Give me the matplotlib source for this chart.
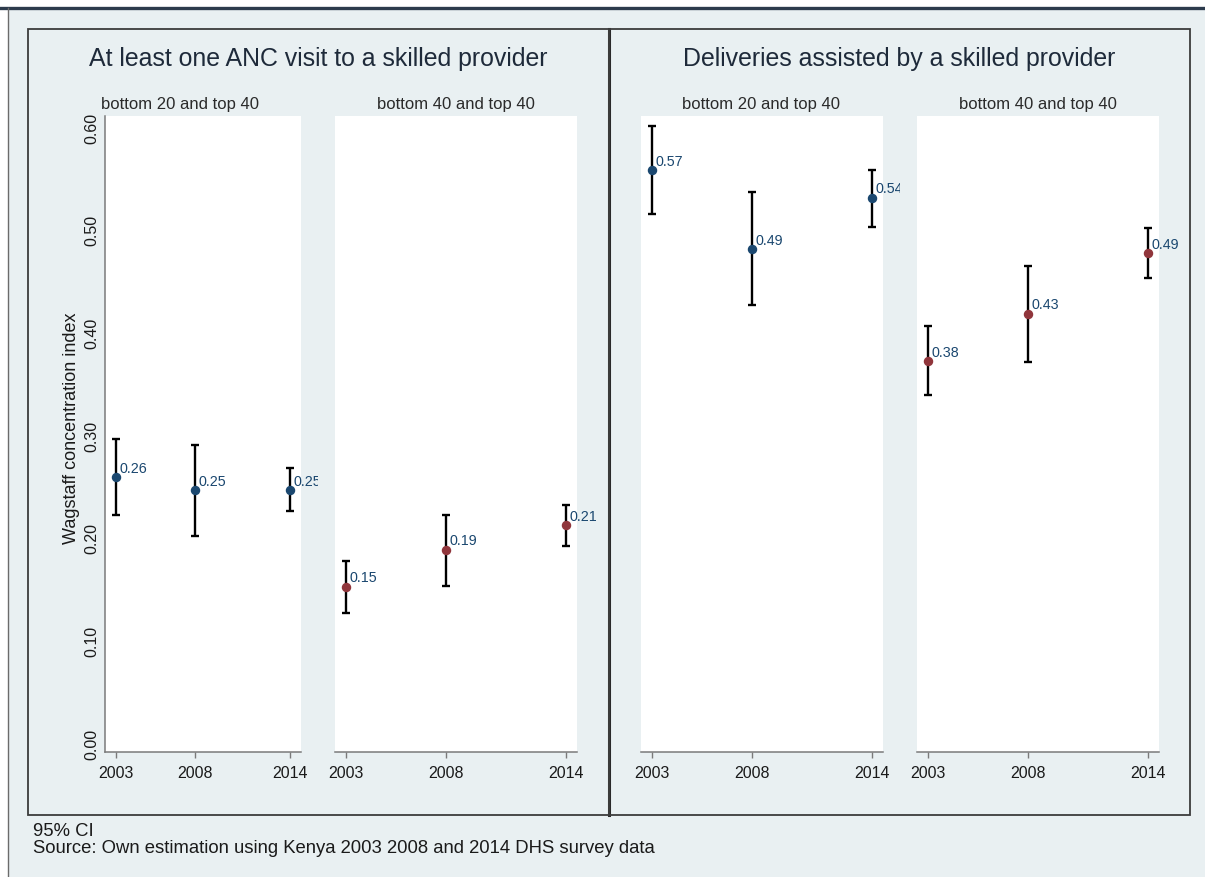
import matplotlib
matplotlib.use("Agg")
import matplotlib.pyplot as plt
from matplotlib.patches import Rectangle
from matplotlib.lines import Line2D
from matplotlib.transforms import Bbox, TransformedBbox

# ---------------- data ----------------
years = [2003, 2008, 2014]
year_labels = ["2003", "2008", "2014"]

anc_b20_est = [0.259, 0.246, 0.246]
anc_b20_lo = [0.222, 0.202, 0.226]
anc_b20_hi = [0.296, 0.290, 0.268]
anc_b20_lab = ["0.26", "0.25", "0.25"]

anc_b40_est = [0.152, 0.188, 0.212]
anc_b40_lo = [0.127, 0.153, 0.192]
anc_b40_hi = [0.177, 0.222, 0.232]
anc_b40_lab = ["0.15", "0.19", "0.21"]

del_b20_est = [0.558, 0.481, 0.531]
del_b20_lo = [0.515, 0.427, 0.503]
del_b20_hi = [0.601, 0.537, 0.558]
del_b20_lab = ["0.57", "0.49", "0.54"]

del_b40_est = [0.372, 0.418, 0.477]
del_b40_lo = [0.339, 0.371, 0.453]
del_b40_hi = [0.406, 0.465, 0.502]
del_b40_lab = ["0.38", "0.43", "0.49"]

yticks = [0.0, 0.1, 0.2, 0.3, 0.4, 0.5, 0.6]
ytick_labels = ["0.00", "0.10", "0.20", "0.30", "0.40", "0.50", "0.60"]

titles = ["At least one ANC visit to a skilled provider",
          "Deliveries assisted by a skilled provider"]
subtitles = ["bottom 20 and top 40", "bottom 40 and top 40"]
ylabel = "Wagstaff concentration index"
note1 = "95% CI"
note2 = "Source: Own estimation using Kenya 2003 2008 and 2014 DHS survey data"

# ---------------- style ----------------
W, H = 1205, 878
DPI = 100
BG = "#e9f0f2"
NAVY = "#1a476f"
MAROON = "#90353b"
TXT = "#1e2a3a"
plt.rcParams["font.family"] = ["Liberation Sans", "DejaVu Sans"]

fig = plt.figure(figsize=(W / DPI, H / DPI), dpi=DPI, facecolor="white")


def fx(px):
    return px / W


def fy(py):
    return 1 - py / H


def add_ax(x0, y0, x1, y1):
    return fig.add_axes([fx(x0), fy(y1), fx(x1 - x0), (y1 - y0) / H])


# background region
fig.patches.append(Rectangle((fx(8), 0), 1 - fx(8), fy(10), transform=fig.transFigure,
                             facecolor=BG, edgecolor="none", zorder=-5))
fig.lines.append(Line2D([0, 1], [fy(8.5), fy(8.5)], transform=fig.transFigure,
                        color="#2c3b4c", lw=2.4, zorder=1))
fig.lines.append(Line2D([fx(8), fx(8)], [0, fy(9)], transform=fig.transFigure,
                        color="#6b6b6b", lw=1.0, zorder=1))

# frames of the two combined graphs
for (x0, x1) in [(28, 609), (609, 1190)]:
    fig.patches.append(Rectangle((fx(x0), fy(816)), fx(x1 - x0), (816 - 30) / H,
                                 transform=fig.transFigure, facecolor="none",
                                 edgecolor="#3c3c3c", lw=1.3, zorder=2))
fig.lines.append(Line2D([fx(609), fx(609)], [fy(816), fy(30)], transform=fig.transFigure,
                        color="#2a2a2a", lw=2.2, zorder=2))

panels = [
    # (x0, x1, est, lo, hi, labels, color, clip_right, subtitle center)
    (104.5, 301, anc_b20_est, anc_b20_lo, anc_b20_hi, anc_b20_lab, NAVY, 318, 180),
    (335, 577, anc_b40_est, anc_b40_lo, anc_b40_hi, anc_b40_lab, MAROON, 605, 456),
    (640.5, 882.6, del_b20_est, del_b20_lo, del_b20_hi, del_b20_lab, NAVY, 900, 761.5),
    (917, 1159, del_b40_est, del_b40_lo, del_b40_hi, del_b40_lab, MAROON, 1186, 1038),
]
subt = [subtitles[0], subtitles[1], subtitles[0], subtitles[1]]

Y0, Y1 = 117, 753
ylim = (-0.0088, 0.6107)
margin_px = 11

for i, (x0, x1, est, lo, hi, labs, col, clipx, scx) in enumerate(panels):
    ax = add_ax(x0, Y0, x1, Y1)
    ax.set_zorder(3)
    ax.set_facecolor("white")
    span = 11 * margin_px / ((x1 - x0) - 2 * margin_px)
    ax.set_xlim(2003 - span, 2014 + span)
    ax.set_ylim(*ylim)
    for s in ["top", "right"]:
        ax.spines[s].set_visible(False)
    ax.spines["bottom"].set_color("#7a7a7a")
    ax.spines["bottom"].set_linewidth(1.1)
    if i == 0:
        ax.spines["left"].set_color("#7a7a7a")
        ax.spines["left"].set_linewidth(1.1)
        ax.set_yticks(yticks)
        ax.set_yticklabels(ytick_labels, rotation=90, va="center")
        ax.tick_params(axis="y", length=0, pad=3.5, labelsize=11.5, labelcolor="#1a1a1a")
    else:
        ax.spines["left"].set_visible(False)
        ax.set_yticks([])
    ax.set_xticks(years)
    ax.set_xticklabels(year_labels)
    ax.tick_params(axis="x", length=4.3, width=1.0, color="#7a7a7a", pad=5,
                   labelsize=11.5, labelcolor="#1a1a1a")

    yerr = [[e - l for e, l in zip(est, lo)], [h - e for e, h in zip(est, hi)]]
    ax.errorbar(years, est, yerr=yerr, fmt="none", ecolor="black", elinewidth=1.7,
                capsize=3, capthick=1.7, zorder=3)
    ax.plot(years, est, "o", color=col, markersize=5.8, zorder=4, clip_on=False)

    clipbox = TransformedBbox(Bbox.from_extents(fx(x0 - 40), fy(780), fx(clipx), fy(100)),
                              fig.transFigure)
    for xv, yv, t in zip(years, est, labs):
        a = ax.annotate(t, (xv, yv), xytext=(3.5, 9.5), textcoords="offset pixels",
                        ha="left", va="center", fontsize=10.3, color=NAVY,
                        fontweight="normal", annotation_clip=False)
        a.set_clip_on(True)
        a.set_clip_box(clipbox)

    fig.text(fx(scx), fy(105), subt[i], ha="center", va="center",
             fontsize=12, color="#2a2a2a")

# titles
fig.text(fx(318), fy(59), titles[0], ha="center", va="center", fontsize=17.9, color=TXT)
fig.text(fx(899.5), fy(59), titles[1], ha="center", va="center", fontsize=17.9, color=TXT)

# y label
fig.text(fx(71), fy(428), ylabel, rotation=90, ha="center", va="center",
         fontsize=13, color="#1a1a1a")

# notes
fig.text(fx(33), fy(832), note1, ha="left", va="center", fontsize=13.3, color="#1a1a1a")
fig.text(fx(33), fy(849), note2, ha="left", va="center", fontsize=13.3, color="#1a1a1a")

fig.savefig("out.png", dpi=DPI, facecolor="white")
